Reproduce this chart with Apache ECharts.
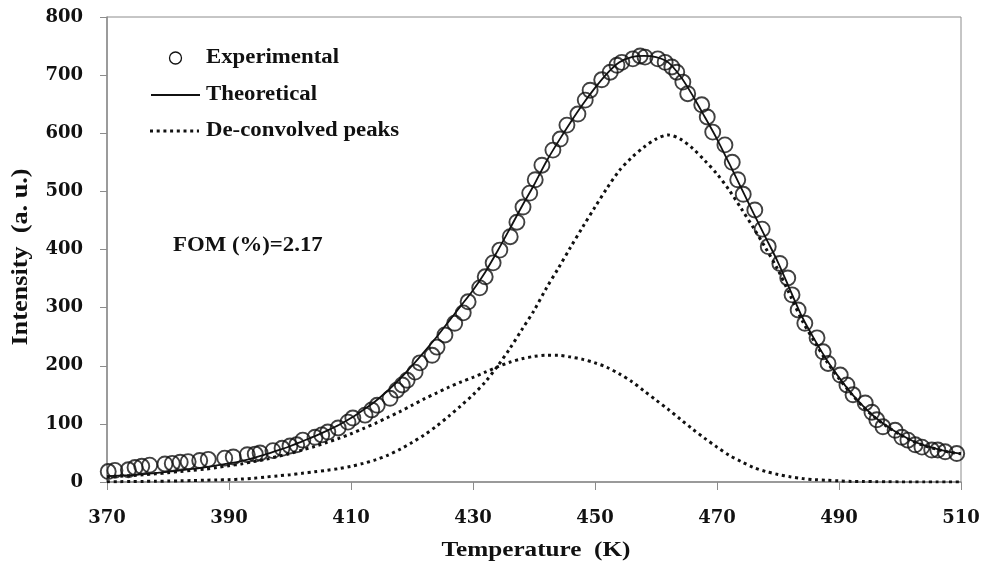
<!DOCTYPE html>
<html>
<head>
<meta charset="utf-8">
<script src="https://cdn.jsdelivr.net/npm/echarts@6/dist/echarts.min.js"></script>
<style>
  html, body { margin: 0; padding: 0; background: #fff; }
  #chart { width: 984px; height: 566px; }
</style>
</head>
<body>
<div id="chart"></div>
<script>
// Temperature grid (K) for the fitted curves
const temps = [370,372,374,376,378,380,382,384,386,388,390,392,394,396,398,400,402,404,406,408,
  410,412,414,416,418,420,422,424,426,428,430,432,434,436,438,440,442,444,446,448,
  450,452,454,456,458,460,462,464,466,468,470,472,474,476,478,480,482,484,486,488,
  490,492,494,496,498,500,502,504,506,508,510];

// Theoretical glow curve (sum of fitted components)
const theoretical = [10,11,12,13.5,15.5,17.5,20,22.5,25,28.5,32,36,41.5,47.5,54.5,61.5,70,78.5,88,98,
  110,124,139,157,177,200,224,249,276,303,330,361,397,435,474,511,551,586,619,650,
  678,703,722,731,733,731,722,698,665,628,590,548,505,462,420,378,330,283,245,210,
  180,153,130,110.5,95,82,71,63,57,52,49];

// First de-convolved peak (low-temperature component)
const peakA = [9,10,11,12.5,14,16,18,20,22,25,28,31,35,39,44,49,55,61,68,75,
  83,92,101,111,121,132,143,153,163,172,180,189,198,206,212,216,218,218,215,211,
  205,197,186,173,157,141,125,108,91,75,60,46,35,25,18,13,9,6,4,3,
  2,1,1,0.5,0.3,0.2,0.1,0,0,0,0];

// Second de-convolved peak (main component)
const peakB = [0.5,0.6,0.8,1,1.3,1.6,2,2.5,3,3.5,4,5,6.5,8.5,10.5,12.5,15,17.5,20,23,
  27,32,38,46,56,68,81,96,113,131,150,172,199,229,262,295,333,368,404,439,
  473,506,536,558,576,590,597,590,574,553,530,502,470,437,402,365,321,277,241,207,
  178,152,129,110,94.5,81.5,70.5,62.5,56.5,51.5,48.5];

// Measured points: temperature (K) and intensity (a. u.)
const expTemp = [370.2,371.3,373.5,374.6,375.7,377.0,379.5,380.7,382.0,383.3,385.2,386.6,389.3,390.7,393.0,394.3,395.1,397.2,398.7,400.0,
  401.1,402.1,404.1,405.2,406.2,407.9,409.5,410.3,412.3,413.4,414.3,416.4,417.5,418.4,419.2,420.5,421.3,423.3,424.1,425.4,
  427.0,428.4,429.2,431.1,432.0,433.3,434.4,436.1,437.2,438.2,439.3,440.2,441.3,443.1,444.3,445.4,447.2,448.4,449.2,451.1,
  452.5,453.6,454.4,456.2,457.4,458.2,460.3,461.5,462.6,463.4,464.4,465.2,467.5,468.4,469.3,471.3,472.5,473.4,474.3,476.2,
  477.4,478.4,480.3,481.6,482.3,483.3,484.4,486.4,487.4,488.2,490.2,491.3,492.3,494.3,495.4,496.2,497.2,499.2,500.3,501.3,
  502.5,503.6,505.2,506.2,507.4,509.3];
const expIntensity = [18,20,21,25,27,29,31,32,34,35,37,39,41,43,47,48,50,54,58,62,
  64,72,77,81,86,93,103,110,115,124,132,144,158,167,175,189,205,218,232,253,
  273,291,310,334,353,377,399,422,447,473,497,520,545,571,590,614,633,657,674,692,
  705,717,722,728,733,731,728,722,714,705,688,668,649,628,602,580,550,520,495,468,
  435,405,376,351,322,296,273,248,224,204,184,167,150,136,120,107,95,89,77,72,
  64,60,55,55,52,49];

// Axis tick values
const xTicks = [370, 390, 410, 430, 450, 470, 490, 510];
const yTicks = [0, 100, 200, 300, 400, 500, 600, 700, 800];

const seriesNames = ['Experimental', 'Theoretical', 'De-convolved peaks'];
const xTitle = 'Temperature  (K)';
const yTitle = 'Intensity  (a. u.)';
const fomText = 'FOM (%)=2.17';

const pair = (xs, ys) => xs.map((x, i) => [x, ys[i]]);

const SERIF = '"Liberation Serif", "Times New Roman", serif';
const TICK_FONT = '"DejaVu Serif", "Liberation Serif", serif';
const INK = '#111';
const AXIS_GREY = '#8c8c8c';
const dotted = { color: INK, width: 3, type: [3, 3.7], cap: 'butt' };

// Wide bold serif text used for titles, key and annotation
function wideText(text, x, y, opts) {
  return Object.assign({
    type: 'text',
    x: x, y: y,
    scaleX: 1.14,
    style: {
      text: text,
      font: 'bold 20px ' + SERIF,
      fill: INK,
      textAlign: 'left',
      textVerticalAlign: 'middle'
    },
    z: 10
  }, opts || {});
}

// Key: symbol samples followed by series names
const keyX = 151, keyW = 49, keyTextX = 206;
const keyRows = [58, 95, 131];
const keyGraphics = [
  { type: 'circle', shape: { cx: keyX + keyW / 2, cy: keyRows[0], r: 6 },
    style: { fill: 'none', stroke: INK, lineWidth: 1.3 }, z: 10 },
  { type: 'line', shape: { x1: keyX, y1: keyRows[1], x2: keyX + keyW, y2: keyRows[1] },
    style: { stroke: INK, lineWidth: 1.8 }, z: 10 },
  { type: 'line', shape: { x1: keyX - 1, y1: keyRows[2], x2: keyX + keyW - 1, y2: keyRows[2] },
    style: { stroke: INK, lineWidth: 3, lineDash: [3, 3.7] }, z: 10 },
  wideText(seriesNames[0], keyTextX, keyRows[0]),
  wideText(seriesNames[1], keyTextX, keyRows[1]),
  wideText(seriesNames[2], keyTextX, keyRows[2])
];

const chart = echarts.init(document.getElementById('chart'), null, { renderer: 'canvas' });

chart.setOption({
  backgroundColor: '#fff',
  animation: false,
  grid: {
    left: 107, right: 23, top: 17, bottom: 84,
    show: true, borderColor: AXIS_GREY, borderWidth: 1
  },
  xAxis: {
    type: 'value',
    min: xTicks[0], max: xTicks[xTicks.length - 1], interval: 20,
    axisLine: { show: true, onZero: false, lineStyle: { color: AXIS_GREY, width: 1.5 } },
    axisTick: { show: true, inside: false, length: 8, lineStyle: { color: AXIS_GREY } },
    axisLabel: { margin: 27, fontFamily: TICK_FONT, fontWeight: 'bold', fontSize: 18, color: INK },
    splitLine: { show: false }
  },
  yAxis: {
    type: 'value',
    min: yTicks[0], max: yTicks[yTicks.length - 1], interval: 100,
    axisLine: { show: true, lineStyle: { color: AXIS_GREY, width: 1.5 } },
    axisTick: { show: true, inside: false, length: 7, lineStyle: { color: AXIS_GREY } },
    axisLabel: { margin: 24, fontFamily: TICK_FONT, fontWeight: 'bold', fontSize: 18, color: INK },
    splitLine: { show: false }
  },
  graphic: keyGraphics.concat([
    wideText(fomText, 173, 246),
    wideText(xTitle, 536, 551, {
      scaleX: 1.2,
      style: { text: xTitle, font: 'bold 21px ' + SERIF, fill: INK, textAlign: 'center', textVerticalAlign: 'middle' }
    }),
    wideText(yTitle, 21, 257, {
      rotation: Math.PI / 2,
      scaleX: 1.25, scaleY: 1.08,
      style: { text: yTitle, font: 'bold 21px ' + SERIF, fill: INK, textAlign: 'center', textVerticalAlign: 'middle' }
    })
  ]),
  series: [
    {
      name: seriesNames[2],
      type: 'line',
      data: pair(temps, peakA),
      showSymbol: false, symbol: 'none',
      smooth: 0.3,
      lineStyle: dotted,
      itemStyle: { color: INK },
      z: 2
    },
    {
      name: seriesNames[2],
      type: 'line',
      data: pair(temps, peakB),
      showSymbol: false, symbol: 'none',
      smooth: 0.3,
      lineStyle: dotted,
      itemStyle: { color: INK },
      z: 2
    },
    {
      name: seriesNames[1],
      type: 'line',
      data: pair(temps, theoretical),
      showSymbol: false, symbol: 'none',
      smooth: 0.3,
      lineStyle: { color: INK, width: 1.8 },
      itemStyle: { color: INK },
      z: 3
    },
    {
      name: seriesNames[0],
      type: 'scatter',
      data: pair(expTemp, expIntensity),
      symbol: 'circle',
      symbolSize: 15,
      clip: false,
      itemStyle: { color: 'rgba(255,255,255,0)', borderColor: INK, borderWidth: 1.9 },
      z: 4
    }
  ]
});
</script>
</body>
</html>
